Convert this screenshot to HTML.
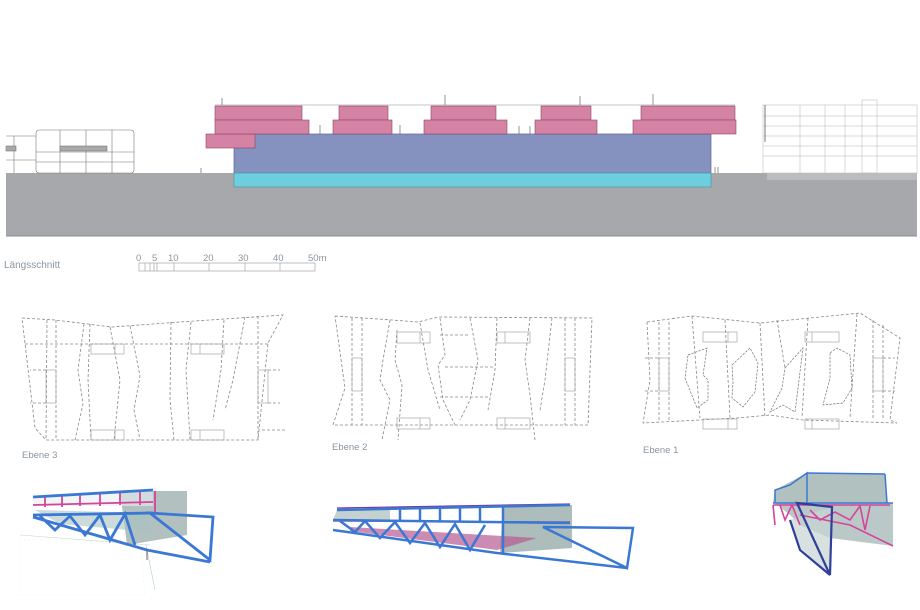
<!DOCTYPE html>
<html><head><meta charset="utf-8"><style>
html,body{margin:0;padding:0;background:#fff;}
svg{display:block;}
text{font-family:"Liberation Sans",sans-serif;fill:#8a96a0;}
</style></head><body>
<svg width="920" height="610" viewBox="0 0 920 610" xmlns="http://www.w3.org/2000/svg">
<rect x="6" y="173" width="911" height="63" fill="#a7a8ab"/>
<line x1="6" y1="236" x2="917" y2="236" stroke="#8d8e92" stroke-width="1"/>
<g stroke="#777" stroke-width="0.6" fill="none">
<rect x="36" y="130" width="98" height="43" rx="3" fill="#fff"/>
<line x1="6" y1="136" x2="36" y2="136"/><line x1="6" y1="160" x2="36" y2="160"/>
<line x1="14" y1="136" x2="14" y2="173"/>
<line x1="36" y1="152" x2="134" y2="152"/><line x1="36" y1="162" x2="134" y2="162"/>
<line x1="60" y1="130" x2="60" y2="173"/><line x1="86" y1="130" x2="86" y2="173"/><line x1="112" y1="130" x2="112" y2="173"/>
<rect x="60" y="146" width="47" height="5" fill="#aaa"/>
<rect x="6" y="146" width="10" height="5" fill="#aaa"/>
</g>
<rect x="234" y="134" width="477" height="39" fill="#8592c0" stroke="#5a6594" stroke-width="0.7"/>
<rect x="234" y="173" width="477" height="14" fill="#6dcfdd" stroke="#4b98a8" stroke-width="0.7"/>
<rect x="206" y="134" width="49" height="14" fill="#d583a4" stroke="#8c4766" stroke-width="0.6"/>
<line x1="215" y1="105" x2="735" y2="105" stroke="#888" stroke-width="0.6"/>
<g fill="#d583a4" stroke="#8c4766" stroke-width="0.6">
<rect x="215" y="106" width="87" height="14"/><rect x="339" y="106" width="49" height="14"/>
<rect x="431" y="106" width="65" height="14"/><rect x="541" y="106" width="50" height="14"/>
<rect x="641" y="106" width="94" height="14"/>
<rect x="215" y="120" width="94" height="14"/><rect x="333" y="120" width="59" height="14"/>
<rect x="424" y="120" width="83" height="14"/><rect x="535" y="120" width="62" height="14"/>
<rect x="633" y="120" width="103" height="14"/>
</g>
<g stroke="#666" stroke-width="0.7">
<line x1="222" y1="98" x2="222" y2="105"/><line x1="445" y1="95" x2="445" y2="105"/><line x1="580" y1="96" x2="580" y2="105"/><line x1="653" y1="94" x2="653" y2="105"/>
<line x1="320" y1="125" x2="320" y2="134"/><line x1="400" y1="125" x2="400" y2="134"/><line x1="519" y1="126" x2="519" y2="134"/><line x1="530" y1="126" x2="530" y2="134"/>
<line x1="715" y1="167" x2="715" y2="173"/><line x1="718" y1="167" x2="718" y2="173"/><line x1="201" y1="168" x2="201" y2="173"/>
</g>
<g stroke="#b5b5b5" stroke-width="0.5" fill="none">
<rect x="763" y="105" width="154" height="68" fill="#fff"/>
<line x1="763" y1="116" x2="917" y2="116"/><line x1="763" y1="126" x2="917" y2="126"/><line x1="763" y1="136" x2="917" y2="136"/><line x1="763" y1="146" x2="917" y2="146"/><line x1="763" y1="156" x2="917" y2="156"/>
<rect x="862" y="100" width="15" height="73"/>
<line x1="800" y1="105" x2="800" y2="173"/><line x1="825" y1="105" x2="825" y2="173"/><line x1="845" y1="105" x2="845" y2="173"/>
</g>
<g stroke="#555" stroke-width="0.8"><line x1="765" y1="105" x2="765" y2="142"/></g>
<rect x="767" y="173" width="150" height="7" fill="#bcbcbe"/>
<text x="4" y="268" font-size="10">Längsschnitt</text>
<g font-size="9.5"><text x="136" y="261">0</text><text x="152" y="261">5</text><text x="168" y="261">10</text><text x="203" y="261">20</text><text x="238" y="261">30</text><text x="273" y="261">40</text><text x="308" y="261">50m</text></g>
<g stroke="#999" stroke-width="0.6" fill="none">
<rect x="139" y="263" width="176" height="8"/>
<line x1="145" y1="263" x2="145" y2="271"/><line x1="150" y1="263" x2="150" y2="271"/><line x1="154" y1="263" x2="154" y2="271"/><line x1="157" y1="263" x2="157" y2="271"/>
<line x1="174" y1="263" x2="174" y2="271"/><line x1="209" y1="263" x2="209" y2="271"/><line x1="245" y1="263" x2="245" y2="271"/><line x1="280" y1="263" x2="280" y2="271"/>
</g>
<g stroke="#888" stroke-width="0.8" fill="none" stroke-dasharray="3,2">
<polyline points="22,318 55,320 112,327 180,322 283,315 268,343 258,440 46,440 35,428 22,318"/>
<line x1="25" y1="344" x2="268" y2="344"/>
<line x1="46" y1="370" x2="30" y2="370"/><line x1="46" y1="403" x2="30" y2="403"/>
<line x1="268" y1="370" x2="280" y2="370"/><line x1="268" y1="403" x2="280" y2="403"/>
<line x1="47" y1="320" x2="46" y2="440"/><line x1="56" y1="320" x2="56" y2="440"/>
<polyline points="84,324 78,370 83,404 75,440"/><polyline points="90,324 88,380 91,440"/>
<polyline points="110,327 120,380 114,440"/><polyline points="130,326 140,376 134,410 140,440"/>
<polyline points="171,322 170,400 174,440"/><polyline points="191,322 186,370 190,440"/>
<polyline points="224,320 221,370 213,420"/><polyline points="245,317 233,380 225,410"/>
<line x1="258" y1="316" x2="258" y2="440"/><line x1="262" y1="430" x2="285" y2="430"/>
</g>
<g stroke="#999" stroke-width="0.6" fill="none">
<rect x="91" y="344" width="33" height="10"/><line x1="115" y1="344" x2="115" y2="354"/>
<rect x="191" y="344" width="33" height="10"/><line x1="200" y1="344" x2="200" y2="354"/>
<rect x="91" y="430" width="33" height="10"/><line x1="115" y1="430" x2="115" y2="440"/>
<rect x="191" y="430" width="33" height="10"/><line x1="200" y1="430" x2="200" y2="440"/>
<rect x="46" y="370" width="10" height="33"/><rect x="258" y="370" width="10" height="33"/>
</g>
<text x="22" y="458" font-size="9.5">Ebene 3</text>
<g stroke="#888" stroke-width="0.8" fill="none" stroke-dasharray="3,2">
<polyline points="335,316 392,320 418,322 438,317 592,318 588,425 333,425 345,388 335,316"/>
<line x1="352" y1="318" x2="352" y2="425"/><line x1="362" y1="318" x2="362" y2="425"/>
<polyline points="390,320 383,360 380,380 390,400 382,440"/><polyline points="397,330 395,360 402,385 398,440"/>
<polyline points="420,323 428,370 440,410"/><polyline points="440,318 445,355 438,365 443,400 455,425"/>
<polyline points="470,318 478,360 470,400 460,420"/><polyline points="497,318 495,370 488,410"/>
<polyline points="530,318 525,360 530,395 535,440"/><polyline points="552,318 545,380 540,410"/>
<line x1="565" y1="318" x2="565" y2="425"/><line x1="575" y1="318" x2="575" y2="425"/>
<line x1="445" y1="367" x2="495" y2="367"/><line x1="440" y1="397" x2="490" y2="397"/><line x1="440" y1="335" x2="470" y2="335"/>
</g>
<g stroke="#999" stroke-width="0.6" fill="none">
<rect x="397" y="332" width="33" height="11"/><line x1="420" y1="332" x2="420" y2="343"/>
<rect x="497" y="332" width="33" height="11"/><line x1="505" y1="332" x2="505" y2="343"/>
<rect x="397" y="418" width="33" height="11"/><line x1="420" y1="418" x2="420" y2="429"/>
<rect x="497" y="418" width="33" height="11"/><line x1="505" y1="418" x2="505" y2="429"/>
<rect x="352" y="358" width="10" height="33"/><rect x="565" y="358" width="10" height="33"/>
</g>
<text x="332" y="450" font-size="9.5">Ebene 2</text>
<g stroke="#888" stroke-width="0.8" fill="none" stroke-dasharray="3,2">
<polyline points="647,322 692,316 760,323 860,313 900,338 890,420 897,423"/>
<polyline points="647,322 650,380 643,423 737,418 770,415 803,420 897,423"/>
<line x1="659" y1="322" x2="659" y2="422"/><line x1="669" y1="322" x2="669" y2="422"/>
<line x1="873" y1="320" x2="873" y2="420"/><line x1="883" y1="325" x2="883" y2="420"/>
<line x1="692" y1="316" x2="700" y2="418"/><line x1="725" y1="320" x2="730" y2="418"/>
<line x1="760" y1="323" x2="765" y2="418"/><line x1="777" y1="320" x2="785" y2="368"/>
<line x1="808" y1="318" x2="802" y2="418"/><line x1="857" y1="314" x2="850" y2="418"/>
<line x1="645" y1="358" x2="659" y2="358"/><line x1="645" y1="391" x2="659" y2="391"/>
<line x1="883" y1="358" x2="895" y2="358"/><line x1="883" y1="391" x2="895" y2="391"/>
</g>
<g stroke="#777" stroke-width="0.7" fill="none" stroke-dasharray="2.5,1.2">
<polygon points="688,355 707,348 703,375 708,380 708,400 697,408 685,378"/>
<polygon points="732,365 750,348 758,363 755,392 743,407 732,398 733,382"/>
<polygon points="785,368 803,348 800,372 795,412 783,405 770,412 782,388"/>
<polygon points="830,353 837,348 850,355 852,388 843,403 823,405 830,378"/>
</g>
<g stroke="#999" stroke-width="0.6" fill="none">
<rect x="703" y="332" width="34" height="10"/><line x1="728" y1="332" x2="728" y2="342"/>
<rect x="805" y="332" width="34" height="10"/><line x1="812" y1="332" x2="812" y2="342"/>
<rect x="703" y="419" width="34" height="10"/><line x1="728" y1="419" x2="728" y2="429"/>
<rect x="805" y="419" width="34" height="10"/><line x1="812" y1="419" x2="812" y2="429"/>
<rect x="659" y="358" width="10" height="33"/><rect x="873" y="358" width="10" height="33"/>
</g>
<text x="643" y="453" font-size="9.5">Ebene 1</text>
<!-- 3D view 1 -->
<g>
<path d="M20,540 L140,540 L145,595 L20,595 Z" fill="none" stroke="#e2e4e4" stroke-width="0.5" stroke-dasharray="1,3"/>
<line x1="20" y1="535" x2="150" y2="545" stroke="#bcd8c8" stroke-width="0.6"/>
<line x1="146" y1="545" x2="155" y2="590" stroke="#aacfbc" stroke-width="0.6"/>
<polygon points="120,491 187,491 187,535 127,545" fill="#9fb2b0" opacity="0.8"/>
<polygon points="35,510 150,513 150,532 60,524" fill="#a9c3c2" opacity="0.6"/>
<polygon points="33,497 153,490 153,506 33,506" fill="#e9eef0" opacity="0.6"/>
<g stroke="#d4449a" stroke-width="1.8" fill="none">
<line x1="33" y1="505" x2="153" y2="502"/>
<line x1="45" y1="497" x2="45" y2="507"/><line x1="62" y1="496" x2="62" y2="507"/><line x1="80" y1="495" x2="80" y2="506"/><line x1="100" y1="494" x2="100" y2="506"/><line x1="120" y1="493" x2="120" y2="505"/><line x1="140" y1="491" x2="140" y2="505"/><line x1="155" y1="491" x2="155" y2="513"/>
</g>
<g stroke="#3a78d4" stroke-width="2.8" fill="none">
<line x1="33" y1="497" x2="153" y2="490"/><line x1="33" y1="515" x2="153" y2="513"/>
<polyline points="33,517 147,550 210,562"/>
<polygon points="150,513 213,517 210,560"/>
<polyline points="40,516 55,530 70,516 85,535 100,515 110,540 125,514 135,545"/>
</g>
<line x1="147" y1="550" x2="147" y2="560" stroke="#666" stroke-width="1"/>
</g>
<!-- 3D view 2 -->
<g>
<polygon points="503,505 572,505 572,548 500,553" fill="#9fb2b0" opacity="0.85"/>
<polygon points="337,510 390,509 390,520 333,520" fill="#a9bdbc" opacity="0.7"/>
<polygon points="350,527 537,538 497,550 350,531" fill="#b65a92" opacity="0.7"/>
<polygon points="572,525 627,530 627,560 572,548" fill="none" stroke="#ddd" stroke-width="0.5" stroke-dasharray="1,2"/>
<g stroke="#7a3a9a" stroke-width="1.3" fill="none"><line x1="337" y1="508" x2="570" y2="504"/><line x1="333" y1="521" x2="570" y2="522"/></g>
<g stroke="#3a78d4" stroke-width="2.5" fill="none">
<line x1="337" y1="510" x2="570" y2="505"/><line x1="333" y1="520" x2="570" y2="523"/>
<polyline points="333,530 497,553 627,568"/>
<polygon points="543,527 633,528 627,568"/>
<polyline points="340,521 355,532 365,521 380,538 395,522 410,543 425,523 440,547 455,524 470,550 485,525"/>
<line x1="400" y1="509" x2="400" y2="520"/><line x1="420" y1="508" x2="420" y2="520"/><line x1="440" y1="508" x2="440" y2="521"/><line x1="460" y1="507" x2="460" y2="521"/><line x1="480" y1="507" x2="480" y2="522"/><line x1="503" y1="505" x2="503" y2="553"/>
</g>
</g>
<!-- 3D view 3 -->
<g>
<polygon points="775,490 807,473 885,474 887,503 773,503" fill="#a3b6b4" opacity="0.85"/>
<polygon points="775,503 893,503 893,546 830,538 800,525 790,515" fill="#a9bcba" opacity="0.8"/>
<polygon points="790,520 832,507 830,575 797,545" fill="#c8d4d3" opacity="0.7"/>
<g stroke="#3a78d4" stroke-width="1.5" fill="none">
<polyline points="775,503 775,490 790,485 807,473 807,503"/><line x1="807" y1="473" x2="885" y2="474"/><line x1="885" y1="474" x2="887" y2="503"/>
<line x1="773" y1="503" x2="893" y2="503"/>
</g>
<g stroke="#d4449a" stroke-width="1.6" fill="none">
<line x1="773" y1="505" x2="890" y2="505"/>
<polyline points="780,505 785,520 792,505 800,525"/>
<polyline points="810,510 820,520 835,512 850,520 860,506 865,530 870,506"/>
<polyline points="800,515 850,525 893,546"/>
<line x1="773" y1="505" x2="775" y2="525"/>
</g>
<g stroke="#2f3f9a" stroke-width="2.2" fill="none">
<polygon points="797,503 832,507 830,575"/>
<polyline points="790,520 800,550 830,575"/>
</g>
</g>
</svg>
</body></html>
